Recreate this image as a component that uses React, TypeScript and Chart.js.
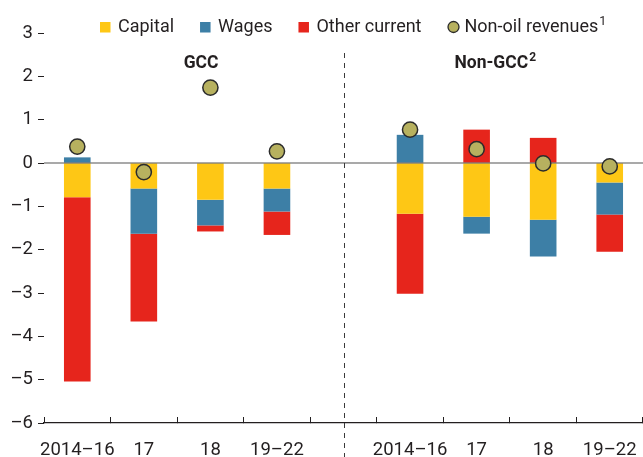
import React, { useEffect, useRef } from 'react';
import { Chart, registerables } from 'chart.js';

Chart.register(...registerables);

// ---- data ----
const categories = ['2014–16', '17', '18', '19–22', '', '2014–16', '17', '18', '19–22'];
const capital = [-0.79, -0.59, -0.85, -0.59, null, -1.17, -1.24, -1.31, -0.45];
const wages = [0.13, -1.04, -0.59, -0.53, null, 0.65, -0.39, -0.85, -0.74];
const otherCurrent = [-4.25, -2.03, -0.14, -0.54, null, -1.85, 0.77, 0.58, -0.86];
const nonOilRevenues = [0.38, -0.21, 1.74, 0.27, null, 0.77, 0.32, -0.01, -0.08];
const seriesLabels = ['Capital', 'Wages', 'Other current', 'Non-oil revenues'];
const seriesNotes = ['', '', '', '1'];
const panelTitles = ['GCC', 'Non-GCC'];
const panelNotes = ['', '2'];
const yMin = -6;
const yMax = 3;
const yStep = 1;

const FONT = 'Roboto, "DejaVu Sans Condensed", sans-serif';
const TEXT = '#231f20';
const COLORS = ['#fec715', '#3d7fa6', '#e6251c', '#b7b15f'];

const overlayPlugin: any = {
  id: 'overlay',
  beforeDatasetDraw(chart: any, args: any) {
    if (args.index !== 3) return;
    const { ctx, chartArea } = chart;
    const y = chart.scales.y.getPixelForValue(0);
    ctx.save();
    ctx.strokeStyle = 'rgba(0,0,0,0.45)';
    ctx.lineWidth = 1.6;
    ctx.beginPath();
    ctx.moveTo(chartArea.left, y);
    ctx.lineTo(chartArea.right, y);
    ctx.stroke();
    ctx.restore();
  },
  afterDraw(chart: any) {
    const { ctx } = chart;
    const xs = chart.scales.x;
    ctx.save();
    // divider between panels
    const dx = Math.round(xs.getPixelForValue(4)) + 0.5;
    ctx.strokeStyle = '#3a3a3a';
    ctx.lineWidth = 1;
    ctx.setLineDash([5, 5]);
    ctx.beginPath();
    ctx.moveTo(dx, 53);
    ctx.lineTo(dx, chart.height);
    ctx.stroke();
    ctx.setLineDash([]);

    // panel titles
    const titleCenters = [1.86, 6.28];
    panelTitles.forEach((t, i) => {
      ctx.font = `bold 17.5px ${FONT}`;
      const w = ctx.measureText(t).width;
      ctx.font = `bold 12px ${FONT}`;
      const sw = panelNotes[i] ? ctx.measureText(panelNotes[i]).width + 1 : 0;
      const cx = xs.getPixelForValue(titleCenters[i]);
      const left = cx - (w + sw) / 2;
      ctx.fillStyle = TEXT;
      ctx.textBaseline = 'middle';
      ctx.textAlign = 'left';
      ctx.font = `bold 17.5px ${FONT}`;
      ctx.fillText(t, left, 63.5);
      if (panelNotes[i]) {
        ctx.font = `bold 12px ${FONT}`;
        ctx.fillText(panelNotes[i], left + w + 1, 57.5);
      }
    });

    // legend
    let x = 100;
    const cy = 27;
    ctx.textBaseline = 'middle';
    ctx.textAlign = 'left';
    seriesLabels.forEach((label, i) => {
      if (i < 3) {
        ctx.fillStyle = COLORS[i];
        ctx.fillRect(x, cy - 5, 10.5, 10.5);
        x += 10.5 + 7.5;
      } else {
        ctx.beginPath();
        ctx.arc(x + 6, cy, 5.5, 0, Math.PI * 2);
        ctx.fillStyle = COLORS[i];
        ctx.fill();
        ctx.lineWidth = 1.3;
        ctx.strokeStyle = '#2b2b2b';
        ctx.stroke();
        x += 12 + 5;
      }
      ctx.font = `18px ${FONT}`;
      ctx.fillStyle = TEXT;
      ctx.fillText(label, x, cy);
      x += ctx.measureText(label).width;
      if (seriesNotes[i]) {
        ctx.font = `12.5px ${FONT}`;
        ctx.fillText(seriesNotes[i], x + 1, cy - 5);
        x += ctx.measureText(seriesNotes[i]).width + 1;
      }
      x += 26;
    });
    ctx.restore();
  },
};

export default function App() {
  const ref = useRef<HTMLCanvasElement | null>(null);

  useEffect(() => {
    if (!ref.current) return;
    const chart = new Chart(ref.current, {
      type: 'bar',
      data: {
        labels: categories,
        datasets: [
          { type: 'bar', label: seriesLabels[0], data: capital, backgroundColor: COLORS[0], borderWidth: 0, categoryPercentage: 0.4, barPercentage: 1 },
          { type: 'bar', label: seriesLabels[1], data: wages, backgroundColor: COLORS[1], borderWidth: 0, categoryPercentage: 0.4, barPercentage: 1 },
          { type: 'bar', label: seriesLabels[2], data: otherCurrent, backgroundColor: COLORS[2], borderWidth: 0, categoryPercentage: 0.4, barPercentage: 1 },
          {
            type: 'line',
            label: seriesLabels[3],
            data: nonOilRevenues,
            stack: 'revenues',
            showLine: false,
            order: -1,
            clip: false,
            pointRadius: 7.6,
            pointBackgroundColor: COLORS[3],
            pointBorderColor: '#2b2b2b',
            pointBorderWidth: 1.5,
            backgroundColor: COLORS[3],
            borderColor: '#2b2b2b',
          } as any,
        ],
      },
      options: {
        responsive: false,
        animation: false,
        events: [],
        layout: { autoPadding: false, padding: { top: 33, right: -2, left: 0, bottom: 0 } },
        plugins: { legend: { display: false }, tooltip: { enabled: false } },
        scales: {
          x: {
            stacked: true,
            offset: true,
            afterFit: (s: any) => { s.height = 34; s.paddingLeft = 0; s.paddingRight = 0; },
            grid: {
              offset: true,
              drawOnChartArea: false,
              tickLength: -6,
              tickColor: TEXT,
              tickWidth: 1,
            },
            border: { display: true, color: TEXT, width: 1.2 },
            ticks: {
              color: TEXT,
              font: { family: FONT, size: 18.5, lineHeight: '66px' },
              padding: 0,
              maxRotation: 0,
              autoSkip: false,
            },
          },
          y: {
            stacked: true,
            min: yMin,
            max: yMax,
            afterFit: (s: any) => { s.width = 44; },
            grid: { drawOnChartArea: false, tickLength: 6, tickColor: TEXT, tickWidth: 1 },
            border: { display: false },
            ticks: {
              stepSize: yStep,
              color: TEXT,
              padding: 5,
              font: { family: FONT, size: 18.5 },
              callback: (v: any) => (Number(v) < 0 ? '–' + Math.abs(Number(v)) : String(v)),
            },
          },
        },
      },
      plugins: [overlayPlugin],
    });
    return () => chart.destroy();
  }, []);

  return (
    <div style={{ position: 'fixed', left: 0, top: 0, width: 643, height: 457, background: '#fff' }}>
      <canvas ref={ref} width={643} height={457} />
    </div>
  );
}
